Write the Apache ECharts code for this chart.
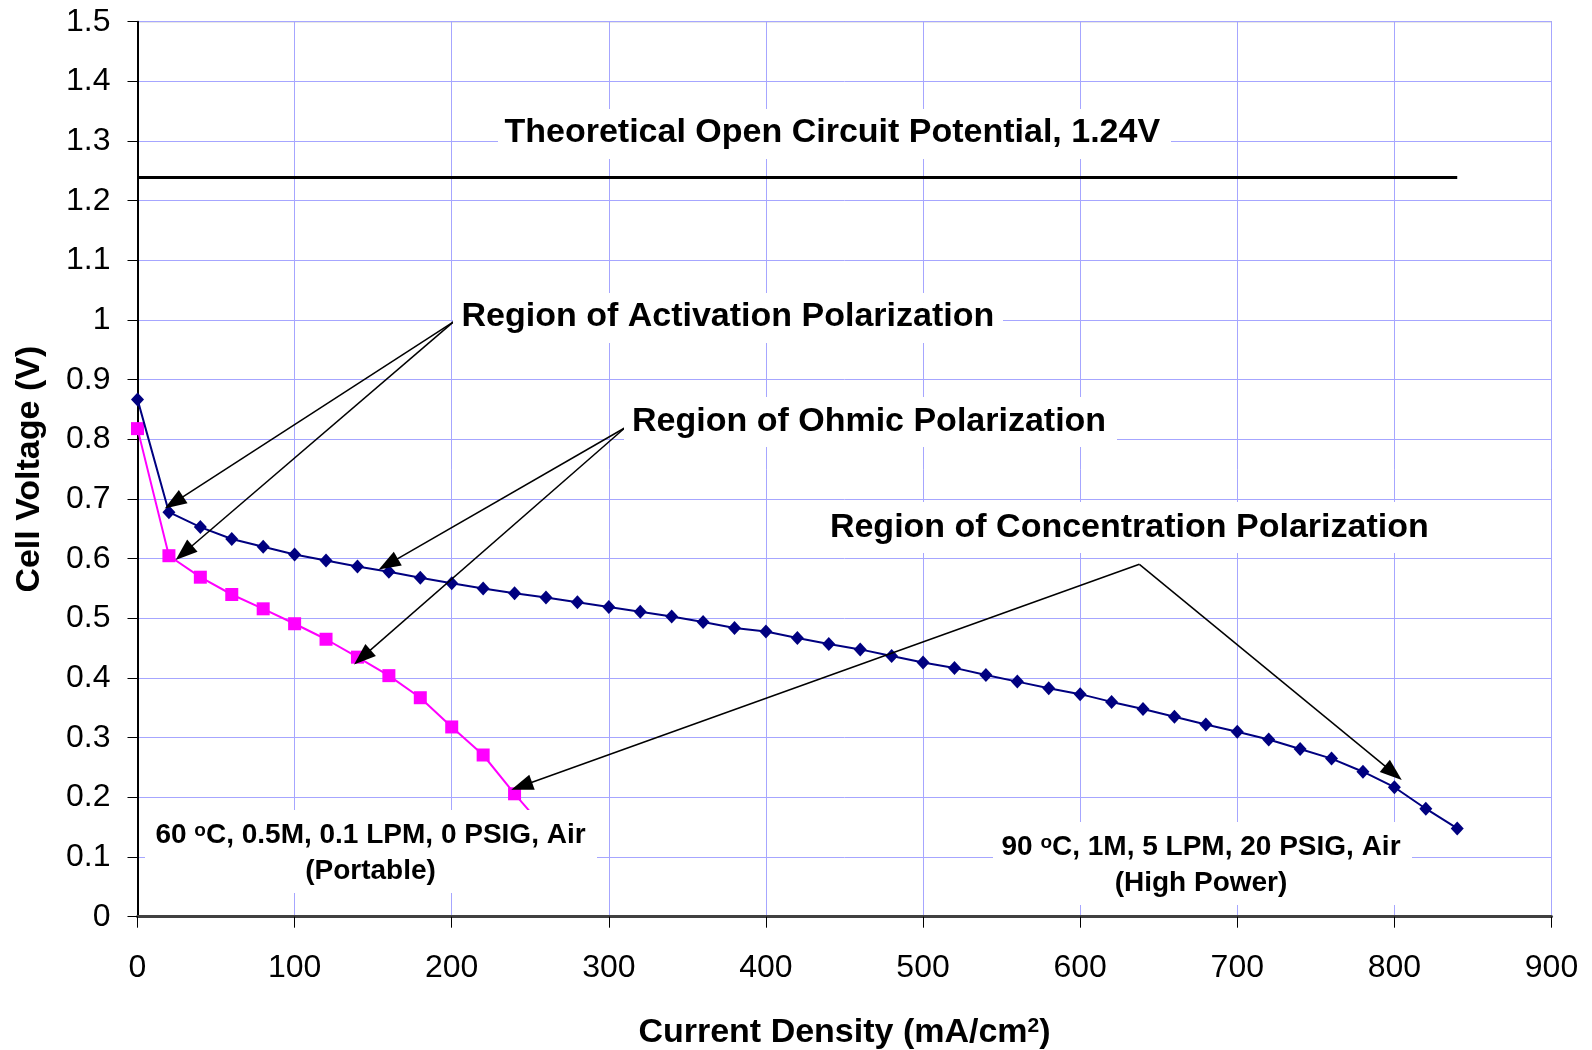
<!DOCTYPE html>
<html><head><meta charset="utf-8">
<script src="https://cdn.jsdelivr.net/npm/echarts@6/dist/echarts.min.js"></script>
<style>html,body{margin:0;padding:0;background:#fff}#c{width:1592px;height:1050px}</style>
</head><body><div id="c"></div>
<script>
// ---- data ----
const currentHigh = [0,20,40,60,80,100,120,140,160,180,200,220,240,260,280,300,320,340,360,380,400,420,440,460,480,500,520,540,560,580,600,620,640,660,680,700,720,740,760,780,800,820,840];
const voltageHigh = [0.867,0.678,0.653,0.633,0.620,0.607,0.597,0.587,0.578,0.568,0.559,0.550,0.542,0.535,0.527,0.519,0.511,0.503,0.494,0.484,0.478,0.467,0.457,0.448,0.437,0.426,0.417,0.405,0.394,0.383,0.373,0.360,0.348,0.335,0.322,0.310,0.297,0.281,0.265,0.243,0.217,0.181,0.148];
const currentPortable = [0,20,40,60,80,100,120,140,160,180,200,220,240,260];
const voltagePortable = [0.818,0.605,0.569,0.540,0.516,0.491,0.465,0.435,0.404,0.367,0.318,0.271,0.206,0.145];
const xTickValues = [0,100,200,300,400,500,600,700,800,900];
const yTickValues = [0,0.1,0.2,0.3,0.4,0.5,0.6,0.7,0.8,0.9,1,1.1,1.2,1.3,1.4,1.5];
const ocvLine = [[0,1.24],[840,1.24]];
// annotation arrows (data coords): [from, to]
const arrows = [
  [[201.1,0.997],[23.2,0.694]],
  [[201.1,0.997],[29.6,0.610]],
  [[310.3,0.8195],[159.6,0.591]],
  [[310.3,0.8195],[143.1,0.435]],
  [[637.7,0.5906],[244.5,0.219]],
  [[637.7,0.5906],[799.3,0.241]]
];

const F = 'Liberation Sans';
const chart = echarts.init(document.getElementById('c'));

const xStep = xTickValues[1]-xTickValues[0];
const yStep = yTickValues[1]-yTickValues[0];

function box(x, y, w, h){
  return {type:'rect', z:100, silent:true, shape:{x:x,y:y,width:w,height:h}, style:{fill:'#fff'}};
}
function txt(x, y, text, size, align, rich){
  return {type:'text', z:101, silent:true, x:x, y:y,
    style:{text:text, fill:'#000', font:'bold '+size+'px '+F, fontFamily:F, fontSize:size, fontWeight:'bold',
      align:align||'left', verticalAlign:'middle', rich:rich||{}}};
}
const supRich = {s:{fontSize:19, fontWeight:'bold', fontFamily:F, fill:'#000', verticalAlign:'top', lineHeight:26}};

chart.setOption({
  animation:false,
  backgroundColor:'#fff',
  grid:{left:137.5, right:40.5, top:21.7, bottom:133.3, show:true, borderColor:'#808080', borderWidth:1,
    containLabel:false, outerBoundsMode:'none'},
  xAxis:{
    type:'value', min:xTickValues[0], max:xTickValues[xTickValues.length-1], interval:xStep,
    name:'Current Density (mA/cm{s|2})', nameLocation:'middle', nameGap:99,
    nameTextStyle:{fontFamily:F, fontSize:34, fontWeight:'bold', color:'#000',
      rich:{s:{fontFamily:F, fontSize:21, fontWeight:'bold', color:'#000', verticalAlign:'top', lineHeight:30}}},
    axisLine:{lineStyle:{color:'#404040', width:3}},
    axisTick:{show:true, length:11, lineStyle:{color:'#000', width:1}},
    axisLabel:{fontFamily:F, fontSize:32, color:'#000', margin:35},
    splitLine:{show:true, lineStyle:{color:'#a6a6ff', width:1}}
  },
  yAxis:{
    type:'value', min:yTickValues[0], max:yTickValues[yTickValues.length-1], interval:yStep,
    name:'Cell Voltage (V)', nameLocation:'middle', nameGap:91, nameRotate:90,
    nameTextStyle:{fontFamily:F, fontSize:34, fontWeight:'bold', color:'#000'},
    axisLine:{show:true, lineStyle:{color:'#000', width:2}},
    axisTick:{show:true, length:10, lineStyle:{color:'#000', width:1}},
    axisLabel:{fontFamily:F, fontSize:32, color:'#000', margin:27},
    splitLine:{show:true, lineStyle:{color:'#a6a6ff', width:1}}
  },
  series:[
    {
      type:'line', name:'Portable', z:3,
      data:currentPortable.map((x,i)=>[x, voltagePortable[i]]),
      symbol:'rect', symbolSize:13,
      lineStyle:{color:'#ff00ff', width:2},
      itemStyle:{color:'#ff00ff'},
      emphasis:{disabled:true}
    },
    {
      type:'line', name:'High Power', z:4,
      data:currentHigh.map((x,i)=>[x, voltageHigh[i]]),
      symbol:'diamond', symbolSize:[13,14],
      lineStyle:{color:'#000080', width:2},
      itemStyle:{color:'#000080'},
      emphasis:{disabled:true}
    },
    {
      type:'line', name:'annotations', data:[], z:5, silent:true,
      markLine:{
        silent:true, animation:false,
        label:{show:false},
        emphasis:{disabled:true},
        data:[
          [{coord:ocvLine[0], symbol:'none', lineStyle:{color:'#000', width:3, type:'solid'}},
           {coord:ocvLine[1], symbol:'none'}]
        ].concat(arrows.map(a=>[
          {coord:a[0], symbol:'none', lineStyle:{color:'#000', width:1.5, type:'solid'}},
          {coord:a[1], symbol:'triangle', symbolSize:[16,22]}
        ])),
        lineStyle:{color:'#000', type:'solid'}
      }
    }
  ],
  graphic:[
    box(498,109,673,50),
    txt(504.5,133,'Theoretical Open Circuit Potential, 1.24V',34),
    box(453,293,550,50),
    txt(461.5,316.5,'Region of Activation Polarization',34),
    box(624,397,493,50),
    txt(632,421.5,'Region of Ohmic Polarization',34),
    box(820,502,617,51),
    txt(829.9,527.5,'Region of Concentration Polarization',34),
    box(145,810,452,83),
    txt(370.5,835,'60 {s|o}C, 0.5M, 0.1 LPM, 0 PSIG, Air',28,'center',supRich),
    txt(370.5,871,'(Portable)',28,'center'),
    box(993,822,419,83),
    txt(1201,847,'90 {s|o}C, 1M, 5 LPM, 20 PSIG, Air',28,'center',supRich),
    txt(1201,883,'(High Power)',28,'center')
  ]
});
</script>
</body></html>
